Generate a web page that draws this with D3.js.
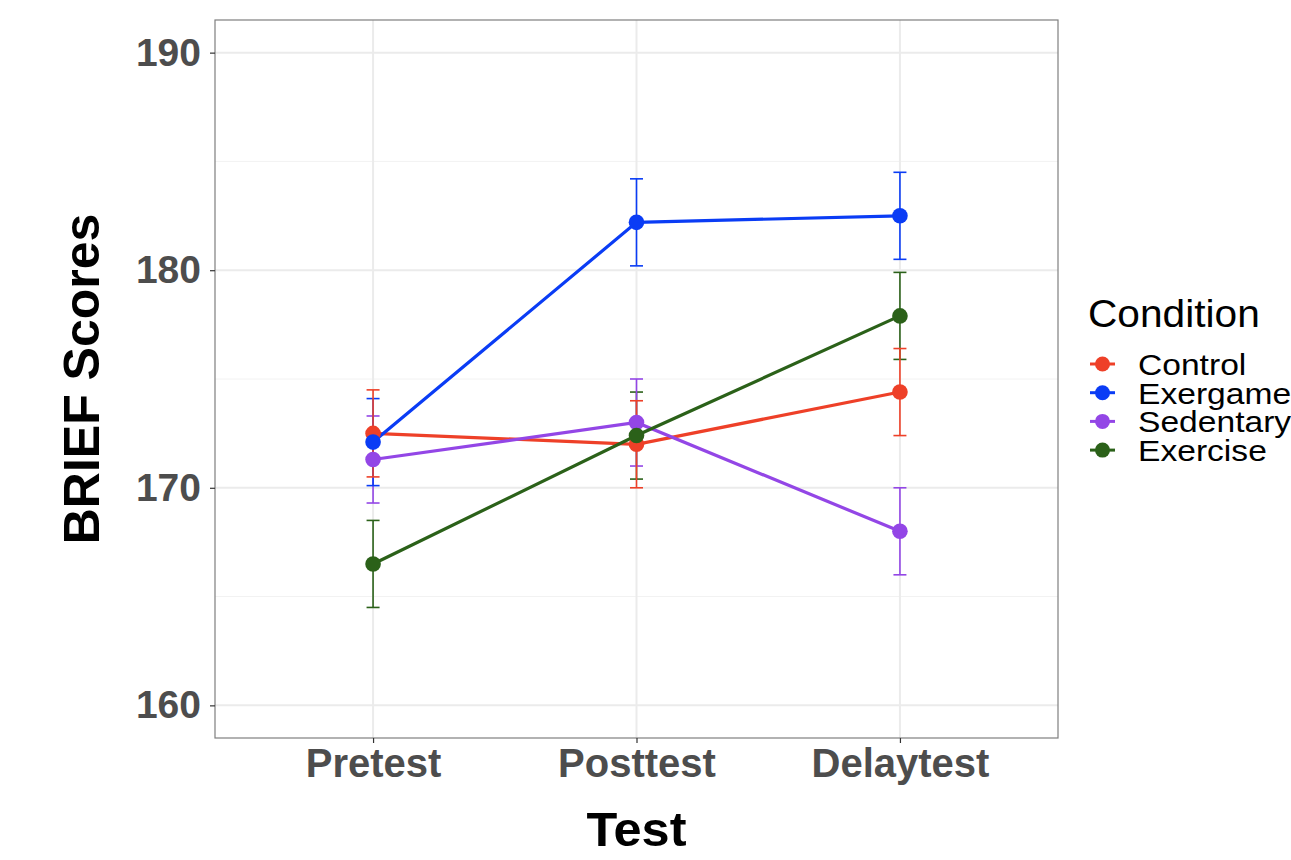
<!DOCTYPE html>
<html>
<head>
<meta charset="utf-8">
<script src="https://d3js.org/d3.v7.min.js"></script>
<style>
  body { margin: 0; background: #fff; }
  text { font-family: "Liberation Sans", Arial, sans-serif; }
</style>
</head>
<body>
<svg width="1291" height="860"></svg>
<script>
// data
var tests = ["Pretest", "Posttest", "Delaytest"];
var conditions = ["Control", "Exergame", "Sedentary", "Exercise"];
var colors = ["#EE4028", "#0A3CF5", "#9346E6", "#2B6119"];

var control = [172.5, 172.0, 174.4];
var exergame = [172.1, 182.2, 182.5];
var sedentary = [171.3, 173.0, 168.0];
var exercise = [166.5, 172.4, 177.9];

// standard errors
var controlSe = [2.0, 2.0, 2.0];
var exergameSe = [2.0, 2.0, 2.0];
var sedentarySe = [2.0, 2.0, 2.0];
var exerciseSe = [2.0, 2.0, 2.0];

var yTicks = [160, 170, 180, 190];
var yMinor = [165, 175, 185];

var series = [
  { name: "Control", values: control, se: controlSe },
  { name: "Exergame", values: exergame, se: exergameSe },
  { name: "Sedentary", values: sedentary, se: sedentarySe },
  { name: "Exercise", values: exercise, se: exerciseSe }
];

var svg = d3.select("svg");
var pLeft = 215, pRight = 1058, pTop = 20, pBottom = 738;

var x = d3.scalePoint().domain(tests).range([pLeft, pRight]).padding(0.6);
var y = d3.scaleLinear().domain([158.5, 191.5]).range([pBottom, pTop]);
var color = d3.scaleOrdinal().domain(conditions).range(colors);

// grid
var grid = svg.append("g");
grid.selectAll(".minor").data(yMinor).enter().append("line")
  .attr("x1", pLeft).attr("x2", pRight)
  .attr("y1", function(d) { return y(d); }).attr("y2", function(d) { return y(d); })
  .attr("stroke", "#F2F2F2").attr("stroke-width", 1);
grid.selectAll(".major").data(yTicks).enter().append("line")
  .attr("x1", pLeft).attr("x2", pRight)
  .attr("y1", function(d) { return y(d); }).attr("y2", function(d) { return y(d); })
  .attr("stroke", "#EBEBEB").attr("stroke-width", 2);
grid.selectAll(".vmajor").data(tests).enter().append("line")
  .attr("y1", pTop).attr("y2", pBottom)
  .attr("x1", function(d) { return x(d); }).attr("x2", function(d) { return x(d); })
  .attr("stroke", "#EBEBEB").attr("stroke-width", 2);

// error bars, drawn last-to-first so Control ends on top
var bars = svg.append("g");
series.slice().reverse().forEach(function(s) {
  var g = bars.append("g").attr("stroke", color(s.name)).attr("stroke-width", 1.6).attr("fill", "none");
  tests.forEach(function(t, i) {
    var lo = s.values[i] - s.se[i], hi = s.values[i] + s.se[i];
    g.append("line").attr("x1", x(t)).attr("x2", x(t)).attr("y1", y(lo)).attr("y2", y(hi));
    g.append("line").attr("x1", x(t) - 6.5).attr("x2", x(t) + 6.5).attr("y1", y(lo)).attr("y2", y(lo));
    g.append("line").attr("x1", x(t) - 6.5).attr("x2", x(t) + 6.5).attr("y1", y(hi)).attr("y2", y(hi));
  });
});

var line = d3.line()
  .x(function(d, i) { return x(tests[i]); })
  .y(function(d) { return y(d); });

svg.append("g").selectAll("path").data(series).enter().append("path")
  .attr("d", function(d) { return line(d.values); })
  .attr("fill", "none")
  .attr("stroke", function(d) { return color(d.name); })
  .attr("stroke-width", 3.2);

series.forEach(function(s) {
  svg.append("g").selectAll("circle").data(s.values).enter().append("circle")
    .attr("cx", function(d, i) { return x(tests[i]); })
    .attr("cy", function(d) { return y(d); })
    .attr("r", 7.8)
    .attr("fill", color(s.name));
});

// panel border
svg.append("rect")
  .attr("x", pLeft).attr("y", pTop)
  .attr("width", pRight - pLeft).attr("height", pBottom - pTop)
  .attr("fill", "none").attr("stroke", "#7F7F7F").attr("stroke-width", 1.2);

// axes
var yAxis = svg.append("g").attr("transform", "translate(" + pLeft + ",0)")
  .call(d3.axisLeft(y).tickValues(yTicks).tickSize(5).tickPadding(9).tickFormat(d3.format("d")));
yAxis.select(".domain").remove();
yAxis.selectAll("line").attr("stroke", "#333333").attr("stroke-width", 1.2);
yAxis.selectAll("text").attr("fill", "#4D4D4D")
  .style("font-size", "39px").style("font-weight", "bold")
  .style("font-family", "'Liberation Sans', Arial, sans-serif");

var xAxis = svg.append("g").attr("transform", "translate(0," + pBottom + ")")
  .call(d3.axisBottom(x).tickSize(5).tickPadding(6));
xAxis.select(".domain").remove();
xAxis.selectAll("line").attr("stroke", "#333333").attr("stroke-width", 1.2);
xAxis.selectAll("text").attr("fill", "#4D4D4D").attr("dy", "0.7em")
  .style("font-size", "40px").style("font-weight", "bold")
  .style("font-family", "'Liberation Sans', Arial, sans-serif");

// titles
svg.append("text")
  .attr("transform", "translate(" + (pLeft + pRight) / 2 + ",846) scale(1.05,1)")
  .attr("text-anchor", "middle")
  .style("font-size", "48px").style("font-weight", "bold")
  .text("Test");

svg.append("text")
  .attr("transform", "translate(99," + (pTop + pBottom) / 2 + ") rotate(-90)")
  .attr("text-anchor", "middle")
  .style("font-size", "50px").style("font-weight", "bold")
  .text("BRIEF Scores");

// legend
var legend = svg.append("g");
legend.append("text")
  .attr("transform", "translate(1088,327) scale(1.07,1)")
  .style("font-size", "38px")
  .text("Condition");

var item = legend.selectAll(".item").data(conditions).enter().append("g")
  .attr("transform", function(d, i) { return "translate(0," + (364 + i * 28.7) + ")"; });
item.append("line")
  .attr("x1", 1090).attr("x2", 1115)
  .attr("stroke", function(d) { return color(d); }).attr("stroke-width", 3);
item.append("circle")
  .attr("cx", 1102.5).attr("r", 7.5)
  .attr("fill", function(d) { return color(d); });
item.append("text")
  .attr("transform", "translate(1138,0) scale(1.12,1)")
  .attr("dy", "0.36em")
  .style("font-size", "30px")
  .text(function(d) { return d; });
</script>
</body>
</html>
